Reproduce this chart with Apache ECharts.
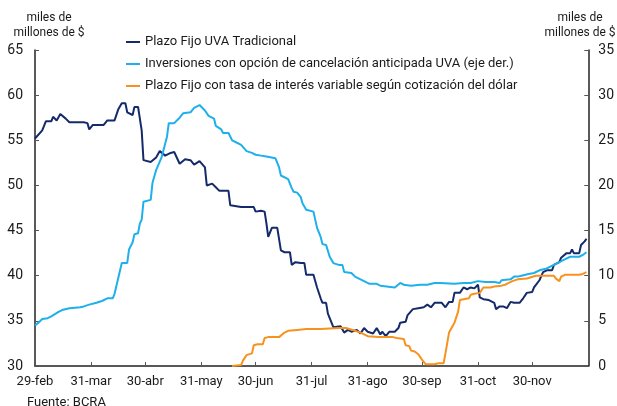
<!DOCTYPE html>
<html lang="es">
<head>
<meta charset="utf-8">
<title>Plazos fijos UVA</title>
<script src="https://cdn.jsdelivr.net/npm/echarts@6/dist/echarts.min.js"></script>
<style>
  html, body { margin: 0; padding: 0; background: #fff; }
  #chart { width: 617px; height: 406px; }
</style>
</head>
<body>
<div id="chart"></div>
<script>
// nombres de meses para las etiquetas del eje x
var monthNames = ['ene', 'feb', 'mar', 'abr', 'may', 'jun', 'jul', 'ago', 'sep', 'oct', 'nov', 'dic'];
var startDate = '2024-02-29';
var endDate = '2024-12-31';

// Plazo Fijo UVA Tradicional (eje izq.)
var uvaDates = ['02-29','03-01','03-04','03-06','03-09','03-10','03-12','03-14','03-15','03-17','03-19','03-25','03-26','03-27','03-29','03-30',
  '04-01','04-05','04-06','04-07','04-09','04-13','04-15','04-17','04-19','04-20','04-23','04-24','04-26','04-28','04-29',
  '05-03','05-04','05-06','05-08','05-09','05-11','05-14','05-16','05-19','05-22','05-25','05-27','05-30','05-31',
  '06-02','06-03','06-06','06-08','06-10','06-15','06-16','06-22','06-29','06-30',
  '07-03','07-05','07-06','07-07','07-09','07-12','07-14','07-16','07-19','07-20','07-22','07-25','07-27','07-28',
  '08-01','08-03','08-05','08-06','08-08','08-09','08-11','08-12','08-13','08-16','08-18','08-20','08-22','08-25','08-27','08-29','08-31',
  '09-03','09-05','09-07','09-08','09-10','09-12','09-15','09-17','09-18','09-21','09-22','09-25','09-28','09-29',
  '10-01','10-03','10-05','10-07','10-09','10-11','10-13','10-15','10-17','10-18','10-21','10-23','10-25','10-27','10-29','10-31',
  '11-01','11-03','11-06','11-09','11-10','11-12','11-14','11-16','11-18','11-20','11-23','11-25','11-27','11-30',
  '12-01','12-04','12-06','12-08','12-11','12-12','12-15','12-16','12-19','12-21','12-22','12-23','12-26','12-27','12-28','12-29','12-30'];
var uvaValues = [55.2,55.2,56.1,57.1,57.1,57.6,57.2,57.9,57.9,57.4,57.0,57.0,57.2,57.0,56.9,56.2,
  56.7,56.7,56.9,56.7,57.2,57.2,58.4,59.1,59.1,58.1,57.8,58.7,58.7,56.1,52.8,
  52.6,52.5,53.1,53.8,53.7,53.3,53.6,53.7,52.4,52.9,52.8,52.3,52.7,52.6,
  52.0,50.0,50.2,49.8,49.4,49.4,47.8,47.6,47.6,47.1,
  47.2,47.1,45.8,44.3,45.3,45.3,42.8,42.6,42.6,41.2,41.5,41.4,41.4,40.1,
  40.1,38.7,37.5,37.0,37.0,35.8,34.8,34.3,34.4,34.4,33.7,34.0,33.8,34.0,33.6,34.2,33.8,
  33.6,34.2,33.5,33.8,33.3,33.8,33.8,34.2,34.8,34.9,35.6,36.3,36.4,36.5,
  36.5,36.8,36.5,37.0,37.0,37.0,36.5,37.1,37.1,38.1,38.1,38.7,38.5,38.7,38.6,39.0,
  37.6,37.4,37.3,37.0,36.3,36.6,36.6,36.4,37.1,37.0,37.0,37.5,38.1,38.2,
  38.7,39.5,40.4,40.6,40.6,41.2,41.5,42.0,42.5,42.5,42.9,42.5,42.5,43.4,43.6,43.8,44.1];

// Inversiones con opción de cancelación anticipada UVA (eje der.)
var cancDates = ['02-29','03-02','03-04','03-07','03-09','03-13','03-15','03-19','03-25','03-27','03-30',
  '04-03','04-06','04-09','04-12','04-13','04-17','04-20','04-21','04-23','04-24','04-26','04-27','04-28','04-29','04-30',
  '05-03','05-04','05-06','05-09','05-12','05-13','05-16','05-19','05-21','05-25','05-27','05-30','05-31',
  '06-02','06-04','06-07','06-08','06-11','06-12','06-15','06-17','06-20','06-22','06-25','06-28','06-30',
  '07-03','07-06','07-07','07-11','07-13','07-14','07-18','07-20','07-21','07-23','07-25','07-26','07-28',
  '08-01','08-03','08-05','08-06','08-08','08-10','08-12','08-15','08-17','08-18','08-22','08-24','08-27','08-29',
  '09-01','09-05','09-07','09-15','09-16','09-18','09-20','09-24','09-29',
  '10-03','10-07','10-10','10-18','10-23','10-27','10-31',
  '11-04','11-09','11-12','11-13','11-18','11-20','11-22','11-24','11-28',
  '12-01','12-04','12-08','12-10','12-12','12-15','12-18','12-21','12-26','12-28','12-30'];
var cancValues = [4.5,4.8,5.2,5.3,5.5,6.0,6.2,6.4,6.5,6.6,6.8,
  7.0,7.2,7.5,7.5,8.0,11.4,11.4,12.9,13.7,14.6,14.7,15.8,16.2,18.2,18.4,
  18.4,20.3,21.7,23.1,25.4,26.9,26.9,27.5,28.0,28.1,28.6,28.9,28.9,
  28.3,27.7,27.4,26.6,26.2,25.8,25.8,25.0,24.7,24.5,23.8,23.6,23.4,
  23.3,23.2,23.0,23.0,22.0,21.1,20.7,19.7,19.3,19.2,18.7,18.0,17.3,
  17.1,15.3,14.3,13.5,13.4,12.1,11.4,11.2,11.2,10.4,10.3,9.9,9.6,9.4,
  9.1,9.1,8.9,8.7,8.8,9.2,9.0,8.9,9.0,
  9.0,9.2,9.2,9.1,9.2,9.2,9.4,
  9.3,9.3,9.2,9.5,9.6,9.9,9.9,10.0,10.2,
  10.3,10.6,10.8,11.0,11.2,11.5,11.8,12.1,12.1,12.3,12.6];

// Plazo Fijo con tasa de interés variable según cotización del dólar (eje der.)
var dolarDates = ['06-17','06-22','06-23','06-25','06-26','06-28','06-29',
  '07-01','07-04','07-05','07-07','07-13','07-14','07-16','07-18','07-23','07-28',
  '08-05','08-15','08-19','08-20','08-24','08-27','08-29','08-31',
  '09-06','09-14','09-16','09-20','09-21','09-23','09-24','09-26','09-28','09-30',
  '10-02','10-07','10-09','10-12','10-13','10-15','10-16','10-18','10-19','10-20','10-21','10-22','10-26','10-27','10-29',
  '11-01','11-02','11-03','11-07','11-09','11-13','11-15','11-17','11-19','11-22','11-27',
  '12-02','12-12','12-13','12-15','12-16','12-18','12-26','12-28','12-30'];
var dolarValues = [0.0,0.1,0.6,1.2,1.3,1.4,2.3,
  2.4,2.4,3.1,3.2,3.2,3.3,3.7,3.9,4.0,4.1,
  4.1,4.2,4.2,4.1,3.9,3.7,3.5,3.3,
  3.2,3.2,3.1,3.0,2.3,2.2,1.7,1.6,1.3,0.7,
  0.2,0.2,0.3,0.3,1.4,3.7,3.8,4.8,4.9,6.0,7.3,7.5,7.5,7.9,8.0,
  8.1,8.3,8.7,8.7,8.8,8.9,9.0,9.2,9.4,9.6,9.7,
  10.0,10.0,9.7,9.4,9.9,10.1,10.1,10.2,10.4];

// todas las fechas diarias como categorías (MM-DD)
var categories = [];
var d = new Date(startDate + 'T00:00:00Z');
var last = new Date(endDate + 'T00:00:00Z');
while (d <= last) {
    categories.push(d.toISOString().slice(5, 10));
    d.setUTCDate(d.getUTCDate() + 1);
}

function isMonthEnd(idx) {
    var next = categories[idx + 1];
    return next !== undefined && next.slice(0, 2) !== categories[idx].slice(0, 2);
}

function pairs(dates, values) {
    return dates.map(function (dt, i) { return [dt, values[i]]; });
}

var font = 'Roboto, "Noto Sans", sans-serif';
var textColor = '#1a1a1a';

var myChart = echarts.init(document.getElementById('chart'));
myChart.setOption({
    animation: false,
    textStyle: {fontFamily: font},
    grid: {left: 35, right: 25, top: 50, bottom: 40},
    legend: {
        orient: 'vertical',
        left: 121,
        top: 30,
        itemWidth: 14,
        itemHeight: 2,
        itemGap: 8,
        icon: 'rect',
        textStyle: {fontFamily: font, fontSize: 13, color: textColor, lineHeight: 14},
        data: ['Plazo Fijo UVA Tradicional',
            'Inversiones con opción de cancelación anticipada UVA (eje der.)',
            'Plazo Fijo con tasa de interés variable según cotización del dólar']
    },
    graphic: [
        {type: 'text', x: 49, y: 10, style: {text: 'miles de\nmillones de $', textAlign: 'center', fontFamily: font, fontSize: 12, lineHeight: 15, fill: textColor}},
        {type: 'text', x: 580, y: 10, style: {text: 'miles de\nmillones de $', textAlign: 'center', fontFamily: font, fontSize: 12, lineHeight: 15, fill: textColor}},
        {type: 'text', x: 27, y: 396, style: {text: 'Fuente: BCRA', fontFamily: font, fontSize: 13, fill: textColor}}
    ],
    xAxis: {
        type: 'category',
        data: categories,
        boundaryGap: false,
        axisLine: {lineStyle: {color: '#222', width: 1.5}},
        axisTick: {inside: true, length: 4, interval: function (idx) { return isMonthEnd(idx); }, lineStyle: {color: '#555'}},
        axisLabel: {
            interval: function (idx) { return isMonthEnd(idx); },
            margin: 9,
            fontSize: 13,
            color: textColor,
            formatter: function (v) {
                return parseInt(v.slice(3), 10) + '-' + monthNames[parseInt(v.slice(0, 2), 10) - 1];
            }
        }
    },
    yAxis: [{
        type: 'value',
        min: 30, max: 65, interval: 5,
        splitLine: {show: false},
        axisLine: {show: true, lineStyle: {color: '#222', width: 1.5}},
        axisTick: {show: true, inside: true, length: 4, lineStyle: {color: '#555'}},
        axisLabel: {margin: 12, fontSize: 14, color: textColor}
    }, {
        type: 'value',
        min: 0, max: 35, interval: 5,
        splitLine: {show: false},
        axisLine: {show: true, lineStyle: {color: '#222', width: 1.5}},
        axisTick: {show: true, inside: true, length: 4, lineStyle: {color: '#555'}},
        axisLabel: {margin: 10, fontSize: 14, color: textColor}
    }],
    series: [{
        name: 'Plazo Fijo UVA Tradicional',
        type: 'line',
        yAxisIndex: 0,
        symbol: 'none',
        color: '#142a6b',
        lineStyle: {width: 2},
        data: pairs(uvaDates, uvaValues)
    }, {
        name: 'Inversiones con opción de cancelación anticipada UVA (eje der.)',
        type: 'line',
        yAxisIndex: 1,
        symbol: 'none',
        color: '#1eb0ea',
        lineStyle: {width: 2},
        data: pairs(cancDates, cancValues)
    }, {
        name: 'Plazo Fijo con tasa de interés variable según cotización del dólar',
        type: 'line',
        yAxisIndex: 1,
        symbol: 'none',
        color: '#f7921e',
        lineStyle: {width: 2},
        data: pairs(dolarDates, dolarValues)
    }]
});
</script>
</body>
</html>
